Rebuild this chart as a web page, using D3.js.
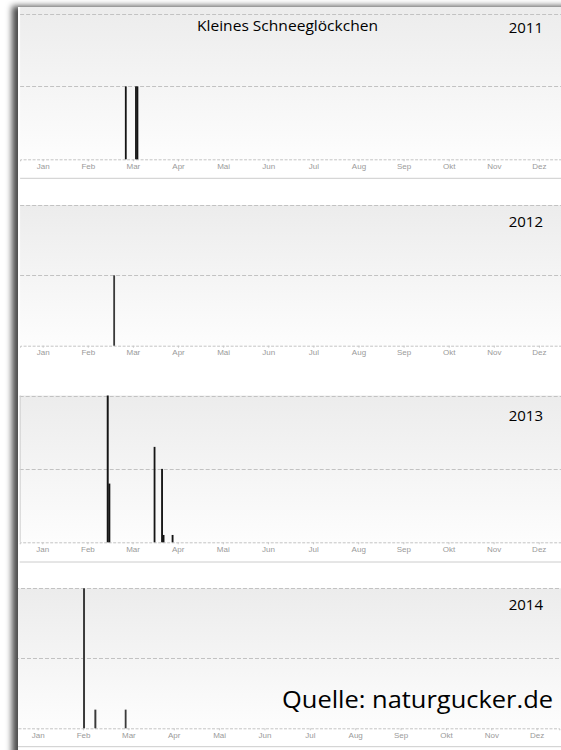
<!DOCTYPE html>
<html>
<head>
<meta charset="utf-8">
<script src="https://cdn.jsdelivr.net/npm/d3@7"></script>
<style>
  html, body { margin: 0; padding: 0; background: #ffffff; }
  svg { display: block; }
</style>
</head>
<body>
<svg id="chart" width="561" height="750"></svg>
<script>
// ---------------- DATA ----------------
const title = "Kleines Schneeglöckchen";
const source = "Quelle: naturgucker.de";
const months = ["Jan","Feb","Mar","Apr","Mai","Jun","Jul","Aug","Sep","Okt","Nov","Dez"];
const years = ["2011","2012","2013","2014"];
const yMax = [2, 2, 20, 15];

const dates2011 = ["03-11","03-18","03-19"];
const values2011 = [1, 1, 1];
const dates2012 = ["03-03"];
const values2012 = [1];
const dates2013 = ["02-27","02-28","03-31","04-05","04-06","04-12"];
const values2013 = [20, 8, 13, 10, 1, 1];
const dates2014 = ["02-15","02-22","03-14"];
const values2014 = [15, 2, 2];

const seriesDates = [dates2011, dates2012, dates2013, dates2014];
const seriesValues = [values2011, values2012, values2013, values2014];

// ---------------- LAYOUT ----------------
const layout = [
  { x0: 20.1, x1: 561.5, top: 13.5,  base: 159.3, bgTop: 7,     yearY: 33,  sep: 178.3, color: "#151515", leftLine: false },
  { x0: 20.1, x1: 561.5, top: 205,   base: 345.7, bgTop: 205,   yearY: 227, sep: null,  color: "#3a3a3a", leftLine: false },
  { x0: 19.7, x1: 561.3, top: 395.5, base: 542.3, bgTop: 395.5, yearY: 421, sep: 562,   color: "#151515", leftLine: true },
  { x0: 15.0, x1: 559.3, top: 588.3, base: 728.3, bgTop: 588.3, yearY: 610, sep: 746.7, color: "#3a3a3a", leftLine: false }
];
const cardX = 18, cardY = 7;

const svg = d3.select("#chart");
const defs = svg.append("defs");

const shadow = defs.append("filter").attr("id", "shadow")
  .attr("x", "-10%").attr("y", "-10%").attr("width", "120%").attr("height", "120%");
shadow.append("feDropShadow")
  .attr("dx", -6).attr("dy", -1).attr("stdDeviation", 3)
  .attr("flood-color", "#000").attr("flood-opacity", 0.7);

const grad = defs.append("linearGradient").attr("id", "bg")
  .attr("x1", 0).attr("y1", 0).attr("x2", 0).attr("y2", 1);
grad.append("stop").attr("offset", "0%").attr("stop-color", "#ececec");
grad.append("stop").attr("offset", "100%").attr("stop-color", "#fdfdfd");

defs.append("clipPath").attr("id", "cardClip")
  .append("rect").attr("x", cardX).attr("y", cardY).attr("width", 600).attr("height", 800);

// card
svg.append("rect")
  .attr("x", cardX).attr("y", cardY).attr("width", 600).attr("height", 800)
  .attr("fill", "#ffffff").attr("filter", "url(#shadow)");

const card = svg.append("g").attr("clip-path", "url(#cardClip)");

function monthPos(yearStr, md) {
  const [mm, dd] = md.split("-").map(Number);
  const m = mm - 1;
  const dim = new Date(+yearStr, m + 1, 0).getDate();
  return { pos: m + (dd - 1) / dim, dim: dim };
}

years.forEach((yr, i) => {
  const L = layout[i];
  const g = card.append("g");
  const x = d3.scaleLinear().domain([0, 12]).range([L.x0, L.x1]);
  const y = d3.scaleLinear().domain([0, yMax[i]]).range([L.base, L.top]);

  // background gradient
  g.append("rect")
    .attr("x", Math.max(L.x0, cardX)).attr("y", L.bgTop)
    .attr("width", 561 - Math.max(L.x0, cardX)).attr("height", L.base - L.bgTop)
    .attr("fill", "url(#bg)");

  // grid lines (top and middle)
  [yMax[i], yMax[i] / 2].forEach(v => {
    g.append("line")
      .attr("x1", L.x0).attr("x2", L.x1)
      .attr("y1", Math.round(y(v)) + 0.5).attr("y2", Math.round(y(v)) + 0.5)
      .attr("stroke", "#c2c2c2").attr("stroke-width", 1)
      .attr("stroke-dasharray", "4,2");
  });

  if (L.leftLine) {
    g.append("line")
      .attr("x1", L.x0 + 0.5).attr("x2", L.x0 + 0.5)
      .attr("y1", L.top).attr("y2", L.base)
      .attr("stroke", "#cfcfcf");
  }

  // x axis
  const axis = d3.axisBottom(x)
    .tickValues(d3.range(12).map(k => k + 0.5))
    .tickFormat(d => months[Math.floor(d)])
    .tickSize(2).tickPadding(2);
  const ax = g.append("g")
    .attr("transform", `translate(0,${L.base})`)
    .call(axis);
  ax.select(".domain")
    .attr("stroke", "#c4c4c4").attr("stroke-dasharray", "3,1.5");
  ax.selectAll(".tick line").attr("stroke", "#c8c8c8");
  ax.selectAll(".tick text")
    .attr("fill", "#9a9a9a")
    .attr("font-family", "'Liberation Sans', Arial, sans-serif")
    .attr("font-size", "8px");

  // bars
  const data = seriesDates[i].map((d, k) => ({ date: d, value: seriesValues[i][k] }));
  g.selectAll("rect.bar").data(data).enter().append("rect")
    .attr("class", "bar")
    .attr("x", d => x(monthPos(yr, d.date).pos))
    .attr("width", d => (x(1) - x(0)) / monthPos(yr, d.date).dim + 0.35)
    .attr("y", d => y(d.value))
    .attr("height", d => y(0) - y(d.value))
    .attr("fill", L.color);

  // year label
  g.append("text")
    .attr("x", 543).attr("y", L.yearY)
    .attr("text-anchor", "end")
    .attr("font-family", "'Open Sans', sans-serif")
    .attr("font-size", "15px")
    .attr("fill", "#000")
    .text(yr);

  // separator
  if (L.sep !== null) {
    g.append("line")
      .attr("x1", Math.max(L.x0, cardX)).attr("x2", 561)
      .attr("y1", L.sep).attr("y2", L.sep)
      .attr("stroke", "#cccccc").attr("stroke-width", 1);
  }
});

// title
card.append("text")
  .attr("x", 287.5).attr("y", 30.5)
  .attr("text-anchor", "middle")
  .attr("font-family", "'Open Sans', sans-serif")
  .attr("font-size", "15px")
  .attr("fill", "#000")
  .attr("textLength", 181)
  .attr("lengthAdjust", "spacingAndGlyphs")
  .text(title);

// source
card.append("text")
  .attr("x", 282).attr("y", 708)
  .attr("font-family", "'Open Sans', sans-serif")
  .attr("font-size", "23px")
  .attr("fill", "#000")
  .attr("textLength", 271)
  .attr("lengthAdjust", "spacingAndGlyphs")
  .text(source);
</script>
</body>
</html>
